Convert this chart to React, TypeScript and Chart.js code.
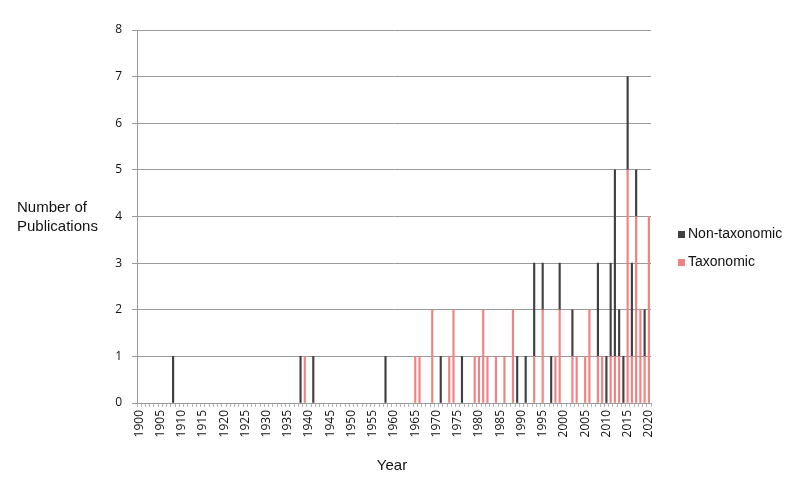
import React, { useEffect, useRef } from "react";
import { Chart, registerables } from "chart.js";

Chart.register(...registerables);

// Category axis: every year from 1900 to 2020
const firstYear = 1900;
const lastYear = 2020;
const years: string[] = [];
for (let y = firstYear; y <= lastYear; y++) years.push(String(y));

// Labelled ticks (every 5 years)
const labelledYears = [
  "1900", "1905", "1910", "1915", "1920", "1925", "1930", "1935", "1940",
  "1945", "1950", "1955", "1960", "1965", "1970", "1975", "1980", "1985",
  "1990", "1995", "2000", "2005", "2010", "2015", "2020",
];

// Taxonomic publications (year -> count)
const taxonomicYears = [
  1939, 1965, 1966, 1969, 1973, 1974, 1979, 1980, 1981, 1982, 1984, 1986,
  1988, 1993, 1995, 1998, 1999, 2002, 2003, 2005, 2006, 2008, 2009, 2011,
  2012, 2013, 2015, 2016, 2017, 2018, 2019, 2020,
];
const taxonomicCounts = [
  1, 1, 1, 2, 1, 2, 1, 1, 2, 1, 1, 1,
  2, 1, 2, 1, 2, 1, 1, 1, 2, 1, 1, 1,
  1, 1, 5, 1, 4, 2, 1, 4,
];

// Non-taxonomic publications (year -> count)
const nonTaxonomicYears = [
  1908, 1938, 1941, 1958, 1971, 1976, 1989, 1991, 1993, 1995, 1997, 1999,
  2002, 2008, 2010, 2011, 2012, 2013, 2014, 2015, 2016, 2017, 2019,
];
const nonTaxonomicCounts = [
  1, 1, 1, 1, 1, 1, 1, 1, 2, 1, 1, 1,
  1, 2, 1, 2, 4, 1, 1, 2, 2, 1, 1,
];

const seriesNames = ["Taxonomic", "Non-taxonomic"];
const seriesColors = ["#F08282", "#404040"];

function toTable(ys: number[], counts: number[]): (number | null)[] {
  const table: (number | null)[] = years.map(() => null);
  ys.forEach((y, i) => {
    table[y - firstYear] = counts[i];
  });
  return table;
}

const overlayPlugin = {
  id: "overlayText",
  afterDraw(chart: any) {
    const ctx = chart.ctx;
    const area = chart.chartArea;
    ctx.save();
    ctx.fillStyle = "#111";
    ctx.textBaseline = "middle";
    ctx.font = '15px "Liberation Sans", Arial, sans-serif';
    ctx.textAlign = "left";
    ctx.fillText("Number of", 17, 208);
    ctx.fillText("Publications", 17, 226.5);
    ctx.textAlign = "center";
    ctx.fillText("Year", (area.left + area.right) / 2 - 2, 466);

    // legend (top-most series first)
    ctx.font = '14px "Liberation Sans", Arial, sans-serif';
    ctx.textAlign = "left";
    const order = [1, 0];
    order.forEach((di, k) => {
      const ds = chart.data.datasets[di];
      const cy = 234.5 + k * 28;
      ctx.fillStyle = ds.backgroundColor as string;
      ctx.fillRect(678, cy - 3.5, 7, 7);
      ctx.fillStyle = "#111";
      ctx.fillText(ds.label, 688, cy);
    });
    ctx.restore();
  },
};

export default function App() {
  const ref = useRef<HTMLCanvasElement | null>(null);

  useEffect(() => {
    if (!ref.current) return;
    const chart = new Chart(ref.current, {
      type: "bar",
      data: {
        labels: years,
        datasets: [
          {
            label: seriesNames[0],
            data: toTable(taxonomicYears, taxonomicCounts),
            backgroundColor: seriesColors[0],
            barThickness: 1.5,
          },
          {
            label: seriesNames[1],
            data: toTable(nonTaxonomicYears, nonTaxonomicCounts),
            backgroundColor: seriesColors[1],
            barThickness: 1.5,
          },
        ],
      },
      options: {
        animation: false,
        responsive: false,
        maintainAspectRatio: false,
        layout: { padding: { left: 0, right: 149, top: 30, bottom: 0 } },
        plugins: {
          legend: { display: false },
          tooltip: { enabled: false },
        },
        scales: {
          x: {
            stacked: true,
            afterFit: (s: any) => {
              s.height = 84;
            },
            grid: {
              offset: true,
              drawOnChartArea: false,
              drawTicks: true,
              tickLength: 4,
              color: "#b5b5b5",
            },
            border: { display: true, color: "#9a9a9a", width: 1 },
            ticks: {
              autoSkip: false,
              maxRotation: 90,
              minRotation: 90,
              padding: 3,
              color: "#111",
              font: { family: '"Open Sans", sans-serif', size: 12 },
              callback: (_v: any, i: number) =>
                labelledYears.includes(years[i]) ? years[i] : "",
            },
          },
          y: {
            stacked: true,
            min: 0,
            max: 8,
            afterFit: (s: any) => {
              s.width = 137;
            },
            grid: {
              color: "#9a9a9a",
              lineWidth: 1,
              drawTicks: true,
              tickLength: 5,
            },
            border: { display: true, color: "#9a9a9a", width: 1 },
            ticks: {
              stepSize: 1,
              padding: 10,
              color: "#111",
              font: { family: '"Open Sans", sans-serif', size: 12 },
            },
          },
        },
      },
      plugins: [overlayPlugin],
    });
    return () => chart.destroy();
  }, []);

  return (
    <div
      style={{
        position: "fixed",
        left: 0,
        top: 0,
        width: 800,
        height: 487,
        background: "#fff",
      }}
    >
      <canvas ref={ref} width={800} height={487} />
    </div>
  );
}
